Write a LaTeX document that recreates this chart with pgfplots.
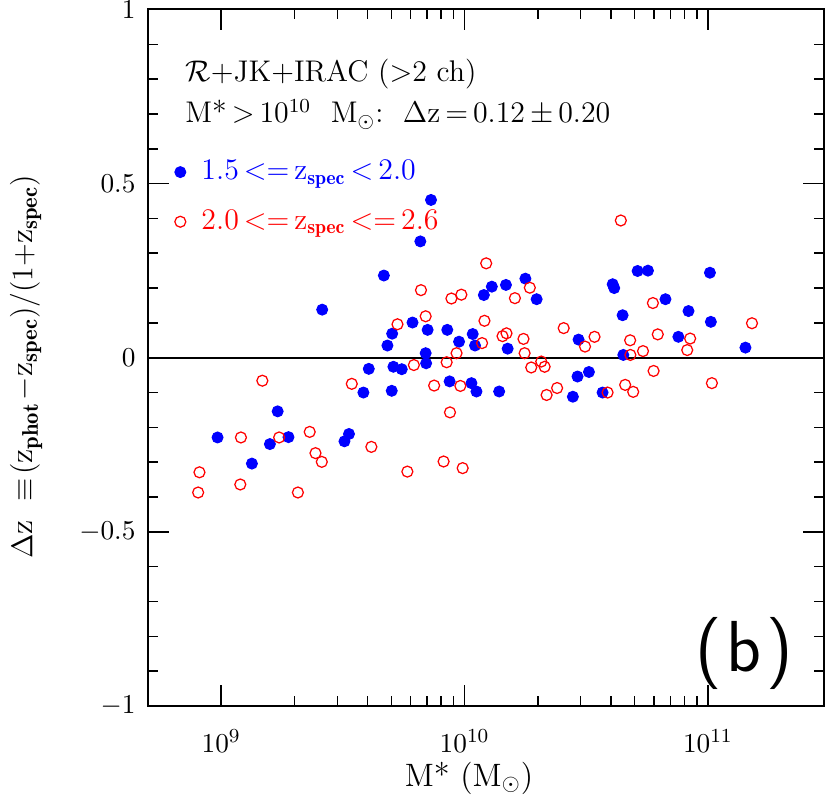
\documentclass[border=0pt]{standalone}
\usepackage{fontspec}
\usepackage{pgfplots}
\pgfplotsset{compat=1.18}
\pgfplotstableread{
x y
9.66e8 -0.229
1.337e9 -0.304
1.585e9 -0.248
1.706e9 -0.154
1.89e9 -0.228
2.60e9 0.138
3.21e9 -0.240
3.35e9 -0.219
3.84e9 -0.100
4.04e9 -0.032
4.66e9 0.236
4.82e9 0.035
5.04e9 0.069
5.02e9 -0.095
5.10e9 -0.026
5.52e9 -0.033
6.11e9 0.101
6.58e9 0.334
6.92e9 0.013
6.95e9 -0.016
7.05e9 0.080
7.28e9 0.453
8.49e9 0.080
8.68e9 -0.068
9.49e9 0.046
1.067e10 -0.073
1.08e10 0.068
1.104e10 0.035
1.119e10 -0.097
1.20e10 0.180
1.294e10 0.204
1.387e10 -0.097
1.479e10 0.209
1.503e10 0.026
1.778e10 0.227
1.978e10 0.168
2.786e10 -0.112
2.911e10 -0.054
2.94e10 0.052
3.243e10 -0.041
3.69e10 -0.100
4.06e10 0.211
4.12e10 0.200
4.46e10 0.122
4.49e10 0.008
5.14e10 0.249
5.67e10 0.250
6.69e10 0.168
7.56e10 0.060
8.32e10 0.134
1.019e11 0.244
1.028e11 0.103
1.426e11 0.029
}\bluedata
\pgfplotstableread{
x y
8.04e8 -0.387
8.14e8 -0.329
1.198e9 -0.364
1.205e9 -0.229
1.476e9 -0.066
1.73e9 -0.229
2.066e9 -0.387
2.31e9 -0.213
2.44e9 -0.274
2.59e9 -0.299
3.44e9 -0.075
4.14e9 -0.256
5.30e9 0.096
5.82e9 -0.327
6.19e9 -0.021
6.62e9 0.194
6.92e9 0.119
7.50e9 -0.080
8.20e9 -0.298
8.44e9 -0.013
8.71e9 -0.157
8.83e9 0.170
9.27e9 0.013
9.61e9 -0.081
9.70e9 0.181
9.82e9 -0.317
1.18e10 0.042
1.207e10 0.106
1.227e10 0.271
1.432e10 0.062
1.487e10 0.070
1.61e10 0.171
1.746e10 0.054
1.765e10 0.013
1.854e10 0.201
1.879e10 -0.028
2.066e10 -0.011
2.133e10 -0.026
2.173e10 -0.107
2.40e10 -0.087
2.554e10 0.085
3.126e10 0.032
3.42e10 0.060
3.87e10 -0.100
4.385e10 0.394
4.57e10 -0.078
4.80e10 0.008
4.79e10 0.050
4.93e10 -0.098
5.41e10 0.019
5.94e10 0.157
5.98e10 -0.038
6.22e10 0.067
8.22e10 0.022
8.45e10 0.055
1.038e11 -0.073
1.517e11 0.099
}\reddata
\begin{document}
\begin{tikzpicture}
\begin{axis}[
  scale only axis, width=271.5pt, height=279.7pt,
  xmode=log, xmin=5e8, xmax=3e11, ymin=-1, ymax=1,
  xtick={1e9,1e10,1e11},
  ytick={-1,-0.5,0,0.5,1}, minor y tick num=4,
  yticklabels={$-1$,$-0.5$,$0$,$0.5$,$1$},
  major tick length=8.3pt, minor tick length=4pt,
  every tick/.style={black, line width=0.6pt},
  axis line style={line width=0.8pt},
  tick align=inside,
  tick label style={font=\fontsize{11}{13}\selectfont},
  yticklabel style={xshift=-1.5pt},
  xticklabel style={yshift=-6pt},
  xlabel={M* (M$_\odot$)},
  ylabel={$\Delta \mathrm{z}\ \equiv\!(\mathrm{z}_{\mathbf{phot}}\!-\!\mathrm{z}_{\mathbf{spec}})/(1{+}\mathrm{z}_{\mathbf{spec}})$},
  label style={font=\fontsize{13}{15}\selectfont},
  xlabel style={at={(axis description cs:0.475,-0.115)}, anchor=base},
  ylabel style={at={(axis description cs:-0.171,0.487)}, anchor=base},
  legend image code/.code={\draw[#1] plot coordinates {(0pt,0pt)};},
  legend style={draw=none, fill=none, at={(axis description cs:0.028,0.798)}, anchor=north west, row sep=6.7pt, column sep=4.3pt, font=\fontsize{12}{14}\selectfont},
  legend cell align=left,
]
\addplot[black, line width=0.8pt, forget plot] coordinates {(5e8,0) (3e11,0)};
\addplot[only marks, mark=*, mark size=2.2pt, color=blue, mark options={fill=blue, draw=blue}] table {\bluedata};
\addlegendentry{\textcolor{blue}{$1.5\,{<}{=}\,\mathrm{z}_{\mathbf{spec}}\,{<}\,2.0$}}
\addplot[only marks, mark=o, mark size=2.2pt, color=red, mark options={draw=red, line width=0.5pt}] table {\reddata};
\addlegendentry{\textcolor{red}{$2.0\,{<}{=}\,\mathrm{z}_{\mathbf{spec}}\,{<}{=}\,2.6$}}
\node[anchor=base west, inner sep=0pt, font=\fontsize{12}{14}\selectfont] at (axis description cs:0.0547,0.896) {$\mathcal{R}{+}$JK${+}$IRAC ($>$2 ch)};
\node[anchor=base west, inner sep=0pt, font=\fontsize{12}{14}\selectfont] at (axis description cs:0.0547,0.837) {M*$\,{>}\,$10$^{10}$\ \ M$_\odot$:\ \ $\Delta$z$\,{=}\,$0.12$\,{\pm}\,$0.20};
\node at (axis description cs:0.882,0.076) {\fontsize{29}{34}\selectfont\sffamily (\kern2pt b\kern2pt)};
\end{axis}
\pgfresetboundingbox
\path ([xshift=-59.4pt,yshift=-36.5pt]current axis.south west) rectangle ([xshift=2.4pt,yshift=3.8pt]current axis.north east);
\end{tikzpicture}
\end{document}
